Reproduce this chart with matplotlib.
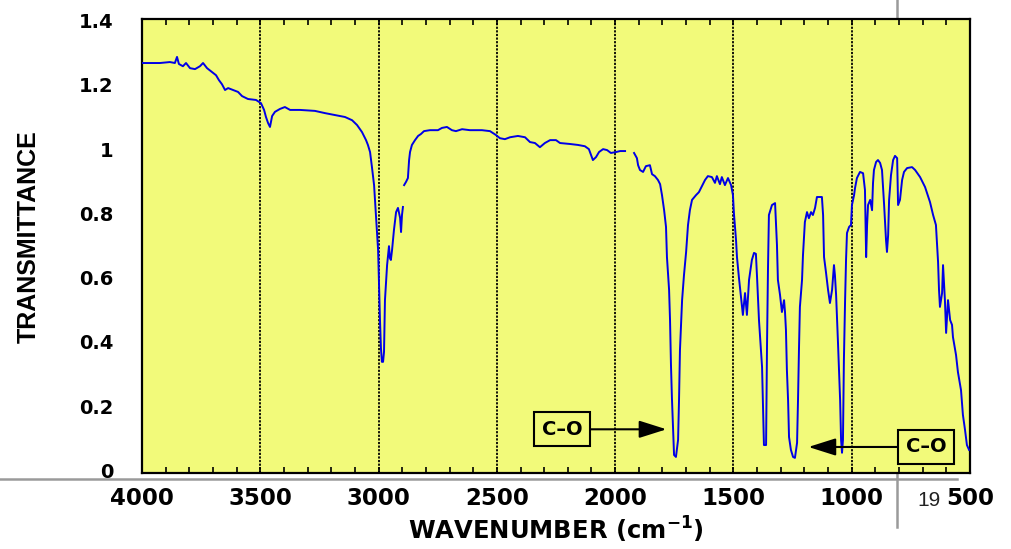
import numpy as np
import matplotlib
matplotlib.use("Agg")
import matplotlib.pyplot as plt
from matplotlib.lines import Line2D
from matplotlib.ticker import MultipleLocator, FixedLocator

nan = np.nan

wavenumber = [
    3996, 3924, 3882, 3861, 3852, 3844, 3827, 3814, 3797, 3776, 3755, 3742, 3725, 3704,
    3687, 3675, 3662, 3649, 3636, 3615, 3594, 3577, 3552, 3518, 3497, 3484, 3476, 3467,
    3459, 3450, 3438, 3417, 3396, 3374, 3332, 3269, 3226, 3184, 3142, 3112, 3091, 3070,
    3053, 3045, 3036, 3028, 3019, 3011, 3002, 2998, 2994, 2990, 2986, 2981, 2977, 2973,
    2964, 2956, 2952, 2948, 2943, 2935, 2926, 2918, 2909, 2905, 2901, 2897, 2895,
    2892, 2884, 2876, 2871, 2867, 2859, 2846, 2833, 2821, 2808, 2783, 2749, 2732, 2711,
    2690, 2673, 2647, 2614, 2563, 2529, 2504, 2487, 2466, 2444, 2411, 2381, 2360, 2339,
    2318, 2297, 2275, 2250, 2233, 2191, 2157, 2128, 2111, 2102, 2094, 2081, 2068, 2051,
    2034, 2018, 1996, 1979, 1958, 1940,
    1920, 1908, 1903, 1895, 1882, 1870, 1853, 1844, 1832, 1819, 1810, 1802, 1793, 1785,
    1781, 1772, 1768, 1764, 1760, 1755, 1751, 1743, 1734, 1730, 1726, 1717, 1709, 1700,
    1692, 1684, 1675, 1658, 1646, 1633, 1620, 1608, 1591, 1578, 1570, 1557, 1549, 1536,
    1523, 1510, 1502, 1498, 1489, 1485, 1477, 1468, 1460, 1451, 1443, 1434, 1422, 1413,
    1405, 1400, 1392, 1379, 1371, 1362, 1358, 1354, 1350, 1337, 1324, 1316, 1312, 1303,
    1295, 1286, 1282, 1278, 1274, 1269, 1265, 1257, 1248, 1240, 1231, 1227, 1223, 1219,
    1210, 1206, 1198, 1189, 1181, 1172, 1164, 1155, 1147, 1126, 1121, 1117, 1109, 1100,
    1092, 1083, 1075, 1071, 1066, 1058, 1049, 1045, 1041, 1037, 1033, 1028, 1024, 1020,
    1011, 1003, 999, 990, 986, 978, 965, 952, 944, 939, 935, 931, 922, 914, 910, 906,
    897, 889, 880, 872, 863, 855, 851, 846, 842, 834, 825, 817, 808, 804, 796, 787, 779,
    766, 745, 732, 711, 690, 669, 656, 644, 640, 635, 631, 627, 618, 614, 606, 601, 593,
    584, 576, 572, 559, 551, 538, 530, 521, 513, 504,
]

transmittance = [
    1.268, 1.268, 1.271, 1.268, 1.287, 1.265, 1.258, 1.268, 1.252, 1.249, 1.258, 1.268, 1.252, 1.240,
    1.230, 1.215, 1.202, 1.184, 1.190, 1.184, 1.178, 1.165, 1.156, 1.153, 1.143, 1.122, 1.100, 1.081,
    1.069, 1.103, 1.116, 1.125, 1.131, 1.122, 1.122, 1.119, 1.112, 1.106, 1.100, 1.090, 1.075, 1.053,
    1.028, 1.013, 0.991, 0.944, 0.888, 0.795, 0.686, 0.577, 0.468, 0.381, 0.338, 0.338, 0.369, 0.530,
    0.639, 0.698, 0.661, 0.655, 0.686, 0.748, 0.804, 0.817, 0.786, 0.742, 0.795, 0.820, nan,
    0.888, 0.898, 0.910, 0.966, 0.991, 1.013, 1.028, 1.041, 1.047, 1.056, 1.059, 1.059, 1.066, 1.069,
    1.059, 1.056, 1.062, 1.059, 1.059, 1.056, 1.044, 1.034, 1.031, 1.037, 1.041, 1.037, 1.022, 1.019,
    1.006, 1.019, 1.028, 1.028, 1.019, 1.016, 1.013, 1.009, 1.000, 0.982, 0.966, 0.975, 0.991, 1.000,
    0.997, 0.988, 0.991, 0.994, 0.994, nan,
    0.988, 0.972, 0.950, 0.935, 0.929, 0.947, 0.950, 0.922, 0.916, 0.904, 0.891, 0.857, 0.810, 0.758,
    0.664, 0.562, 0.468, 0.328, 0.226, 0.126, 0.048, 0.042, 0.095, 0.219, 0.375, 0.530, 0.608, 0.680,
    0.764, 0.810, 0.842, 0.857, 0.866, 0.885, 0.904, 0.916, 0.913, 0.895, 0.916, 0.891, 0.913, 0.888,
    0.910, 0.888, 0.857, 0.801, 0.717, 0.664, 0.602, 0.540, 0.484, 0.552, 0.484, 0.593, 0.655, 0.677,
    0.674, 0.599, 0.468, 0.322, 0.079, 0.079, 0.391, 0.624, 0.795, 0.826, 0.832, 0.702, 0.593, 0.546,
    0.493, 0.530, 0.493, 0.437, 0.313, 0.219, 0.104, 0.064, 0.042, 0.039, 0.086, 0.219, 0.375, 0.509,
    0.593, 0.670, 0.773, 0.804, 0.785, 0.804, 0.795, 0.817, 0.851, 0.851, 0.795, 0.664, 0.618, 0.562,
    0.521, 0.562, 0.639, 0.608, 0.546, 0.397, 0.219, 0.095, 0.055, 0.095, 0.344, 0.530, 0.655, 0.739,
    0.758, 0.764, 0.826, 0.857, 0.879, 0.910, 0.929, 0.925, 0.873, 0.664, 0.764, 0.826, 0.842, 0.810, 0.894, 0.935,
    0.960, 0.966, 0.957, 0.935, 0.826, 0.717, 0.680, 0.733, 0.842, 0.919, 0.966, 0.979, 0.972, 0.826, 0.842, 0.904, 0.929,
    0.941, 0.944, 0.935, 0.913, 0.882, 0.835, 0.795, 0.764, 0.711, 0.649, 0.562, 0.509, 0.552, 0.639, 0.530, 0.428, 0.530,
    0.468, 0.453, 0.415, 0.359, 0.306, 0.250, 0.173, 0.126, 0.079, 0.064,
]

x_ticks = [4000, 3500, 3000, 2500, 2000, 1500, 1000, 500]
x_ticklabels = ["4000", "3500", "3000", "2500", "2000", "1500", "1000", "500"]
y_ticks = [0, 0.2, 0.4, 0.6, 0.8, 1.0, 1.2, 1.4]
y_ticklabels = ["0", "0.2", "0.4", "0.6", "0.8", "1", "1.2", "1.4"]
grid_positions = [3500, 3000, 2500, 2000, 1500, 1000]
annotations = [
    # (text, text position (wavenumber, T), arrow tip (wavenumber, T))
    ("C\u2013O", (2225, 0.128), (1783, 0.128)),
    ("C\u2013O", (686, 0.073), (1183, 0.073)),
]

W, H = 1011, 549
fig = plt.figure(figsize=(W / 100, H / 100), dpi=100)
fig.patch.set_facecolor("white")

# slide decoration lines behind / around the plot
fig.add_artist(Line2D([0, 957 / W], [1 - 478.7 / H] * 2, color="#9a9a9a", lw=1.8, zorder=-1))
fig.add_artist(Line2D([897 / W] * 2, [1 - 527 / H, 1], color="#9a9a9a", lw=1.8, zorder=-1))

ax = fig.add_axes([142 / W, 1 - 473 / H, (970 - 142) / W, (473 - 19) / H])
ax.set_facecolor("#F2FA7A")

ax.plot(wavenumber, transmittance, color="#0000E6", lw=1.4, zorder=3)

for g in grid_positions:
    ax.axvline(g, color="black", lw=1.3, ls=(0, (1.2, 0.8)), zorder=2)

ax.set_xlim(4000, 500)
ax.set_ylim(-0.008, 1.405)

ax.xaxis.set_major_locator(FixedLocator(x_ticks))
ax.set_xticklabels(x_ticklabels)
ax.xaxis.set_minor_locator(MultipleLocator(100))
ax.set_yticks(y_ticks)
ax.set_yticklabels(y_ticklabels)

ax.tick_params(axis="x", which="both", direction="in", top=True, bottom=True,
               length=4.5, width=1.2, color="black", pad=10)
ax.tick_params(axis="y", which="both", left=False, right=False, pad=17)

for lab in ax.get_xticklabels():
    lab.set_fontfamily("DejaVu Sans")
    lab.set_fontweight("bold")
    lab.set_fontsize(16.5)
for lab in ax.get_yticklabels():
    lab.set_fontfamily("DejaVu Sans")
    lab.set_fontweight("bold")
    lab.set_fontsize(14)

for s in ax.spines.values():
    s.set_linewidth(1.6)
    s.set_color("black")

ax.set_xlabel("WAVENUMBER (cm$^{\\mathbf{-1}}$)", fontfamily="DejaVu Sans",
              fontweight="bold", fontsize=17.5)
ax.xaxis.label.set_verticalalignment("baseline")
ax.xaxis.set_label_coords(0.5, (473 - 540) / 454)
ax.set_ylabel("TRANSMITTANCE", fontfamily="Liberation Sans", fontweight="bold", fontsize=18)
ax.yaxis.set_label_coords((41 - 142) / 828, (473 - 237) / 454)

for text, txy, axy in annotations:
    ax.annotate(text, xy=axy, xytext=txy, ha="center", va="center",
                fontfamily="DejaVu Sans", fontweight="bold", fontsize=14,
                bbox=dict(boxstyle="square,pad=0.38", fc="#F2FA7A", ec="black", lw=1.5),
                arrowprops=dict(arrowstyle="-|>,head_length=1.2,head_width=0.38",
                                color="black", lw=1.5, shrinkA=0, shrinkB=0),
                zorder=5)

fig.text(917 / W, 1 - 501 / H, "19", fontfamily="Liberation Sans", fontsize=15,
         color="#222222", ha="left", va="center")

fig.savefig("out.png", dpi=100)
